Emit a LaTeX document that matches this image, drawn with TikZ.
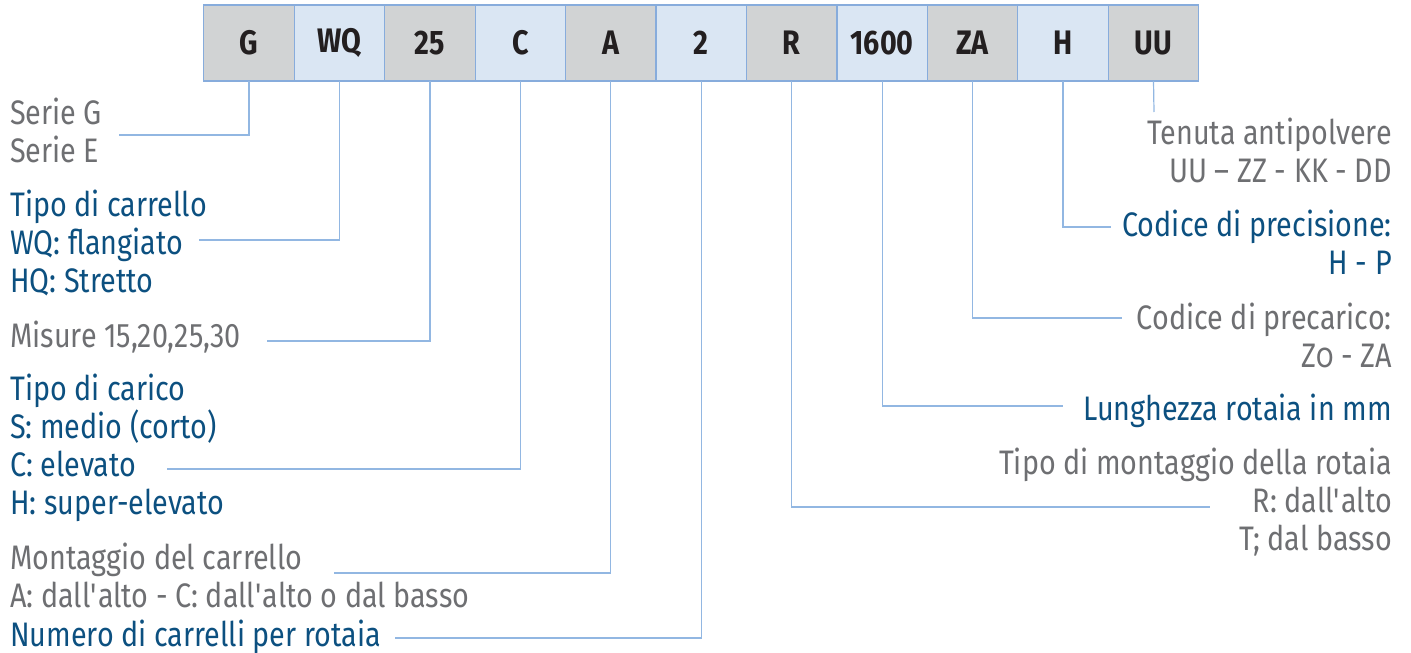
\documentclass[tikz,border=0pt]{standalone}
\usepackage{fontspec}
\setmainfont[FakeStretch=0.845]{Fira Sans}
\usepackage{tikz}
\usetikzlibrary{positioning}
\definecolor{grigio}{RGB}{209,211,212}
\definecolor{azzurro}{RGB}{218,230,243}
\definecolor{bordo}{RGB}{135,172,220}
\definecolor{linea}{RGB}{146,183,226}
\definecolor{testogrigio}{RGB}{110,111,114}
\definecolor{testoblu}{RGB}{12,80,128}
\definecolor{nero}{RGB}{35,31,32}
\newcommand{\apo}{\textquotesingle}

\begin{document}
\begin{tikzpicture}[
        x=1pt, y=-1pt,
        cella/.style={draw=bordo, line width=1.2pt, minimum width=90.45pt,
          minimum height=76pt, inner sep=0pt, outer sep=0pt, text=nero,
          font=\fontsize{34}{38}\selectfont\bfseries},
        gr/.style={cella, fill=grigio},
        az/.style={cella, fill=azzurro},
        voce/.style={inner sep=0pt, text=testogrigio,
          font=\fontsize{34}{38}\selectfont},
        voceblu/.style={voce, text=testoblu},
        sx/.style={align=left, anchor=base west},
        dx/.style={align=right, anchor=base east},
        leader/.style={draw=linea, line width=1.2pt},
        node distance=0pt
      ]
      \useasboundingbox (0,0) rectangle (1411,653);
      % codice
      \node[gr] (bG) at (249,43) {G};
      \node[az] (bWQ) [right=0pt of bG] {WQ};
      \node[gr] (b25) [right=0pt of bWQ] {25};
      \node[az] (bC) [right=0pt of b25] {C};
      \node[gr] (bA) [right=0pt of bC] {A};
      \node[az] (b2) [right=0pt of bA] {2};
      \node[gr] (bR) [right=0pt of b2] {R};
      \node[az] (b1600) [right=0pt of bR] {1600};
      \node[gr] (bZA) [right=0pt of b1600] {ZA};
      \node[az] (bH) [right=0pt of bZA] {H};
      \node[gr] (bUU) [right=0pt of bH] {UU};
      % voci a sinistra (base = ultima riga)
      \node[voce, sx] (tG) at (10,162) {Serie G\\Serie E};
      \node[voceblu, sx] (tWQ) at (10,292) {Tipo di carrello\\WQ: flangiato\\HQ: Stretto};
      \node[voce, sx] (t25) at (10,347) {Misure 15,20,25,30};
      \node[voceblu, sx] (tC) at (10,514) {Tipo di carico\\S: medio (corto)\\C: elevato\\H: super-elevato};
      \node[voce, sx] (tA) at (10,607) {Montaggio del carrello\\A: dall\apo alto - C: dall\apo alto o dal basso};
      \node[voceblu, sx] (t2) at (10,646) {Numero di carrelli per rotaia};
      % voci a destra
      \node[voce, dx] (tUU) at (1392,182) {Tenuta antipolvere\\UU – ZZ - KK - DD};
      \node[voceblu, dx] (tH) at (1392,274) {Codice di precisione:\\H - P};
      \node[voce, dx] (tZA) at (1392,367) {Codice di precarico:\\Z{\addfontfeatures{Numbers=OldStyle}0} - ZA};
      \node[voceblu, dx] (t1600) at (1392,420) {Lunghezza rotaia in mm};
      \node[voce, dx] (tR) at (1392,550) {Tipo di montaggio della rotaia\\R: dall\apo alto\\T; dal basso};
      % estremi dei richiami
      \coordinate (eG) at (119,135);
      \coordinate (eWQ) at (199,240);
      \coordinate (e25) at (267,341);
      \coordinate (eC) at (167,469);
      \coordinate (eA) at (334,573);
      \coordinate (e2) at (395,638);
      \coordinate (eR) at (1210,507);
      \coordinate (e1600) at (1063,406);
      \coordinate (eZA) at (1122,318);
      \coordinate (eH) at (1111,227);
      \coordinate (eUU) at (1154,112);
      % richiami
      \draw[leader] (bG.south) |- (eG);
      \draw[leader] (bWQ.south) |- (eWQ);
      \draw[leader] (b25.south) |- (e25);
      \draw[leader] (bC.south) |- (eC);
      \draw[leader] (bA.south) |- (eA);
      \draw[leader] (b2.south) |- (e2);
      \draw[leader] (bR.south) |- (eR);
      \draw[leader] (b1600.south) |- (e1600);
      \draw[leader] (bZA.south) |- (eZA);
      \draw[leader] (bH.south) |- (eH);
      \draw[leader] (bUU.south) -- (eUU);
    \end{tikzpicture}
\end{document}
